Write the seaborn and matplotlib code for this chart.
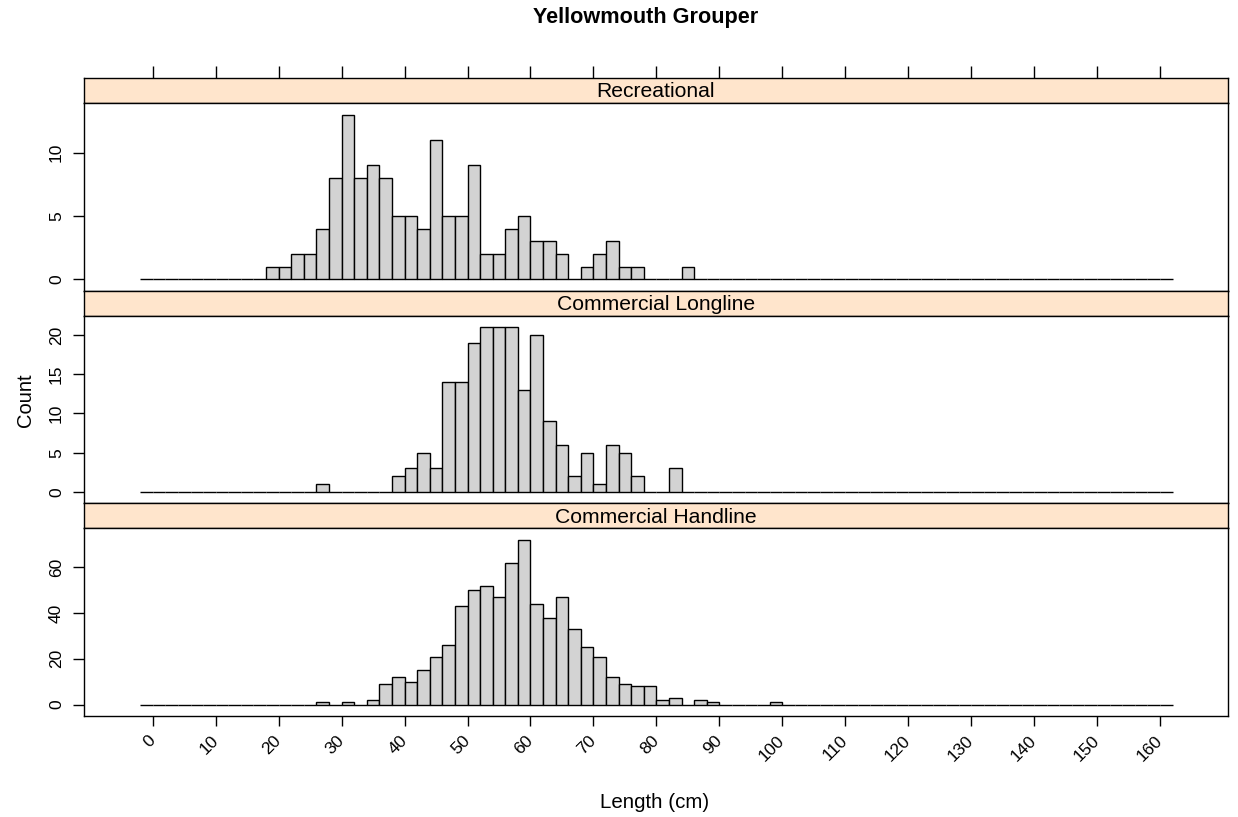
import numpy as np
import pandas as pd
import matplotlib
matplotlib.use('Agg')
import matplotlib.pyplot as plt
import seaborn as sns

sns.set_style('white')
plt.rcParams['font.family'] = ['Liberation Sans', 'DejaVu Sans']
plt.rcParams['text.color'] = 'black'
plt.rcParams['xtick.color'] = 'black'
plt.rcParams['ytick.color'] = 'black'

panels = ['Recreational', 'Commercial Longline', 'Commercial Handline']

# bin midpoints (cm) and counts, 2 cm bins
rec_length = [19, 21, 23, 25, 27, 29, 31, 33, 35, 37, 39, 41, 43, 45, 47,
              49, 51, 53, 55, 57, 59, 61, 63, 65, 69, 71, 73, 75, 77, 85]
rec_count = [1, 1, 2, 2, 4, 8, 13, 8, 9, 8, 5, 5, 4, 11, 5,
             5, 9, 2, 2, 4, 5, 3, 3, 2, 1, 2, 3, 1, 1, 1]

ll_length = [27, 39, 41, 43, 45, 47, 49, 51, 53, 55, 57, 59, 61, 63, 65,
             67, 69, 71, 73, 75, 77, 83]
ll_count = [1, 2, 3, 5, 3, 14, 14, 19, 21, 21, 21, 13, 20, 9, 6,
            2, 5, 1, 6, 5, 2, 3]

hl_length = [27, 31, 35, 37, 39, 41, 43, 45, 47, 49, 51, 53, 55, 57, 59,
             61, 63, 65, 67, 69, 71, 73, 75, 77, 79, 81, 83, 87, 89, 99]
hl_count = [1, 1, 2, 9, 12, 10, 15, 21, 26, 43, 50, 52, 47, 62, 72,
            44, 38, 47, 33, 25, 21, 12, 9, 8, 8, 2, 3, 2, 1, 1]

y_ticks = {'Recreational': [0, 5, 10],
           'Commercial Longline': [0, 5, 10, 15, 20],
           'Commercial Handline': [0, 20, 40, 60]}
x_ticks = np.arange(0, 161, 10)

df = pd.concat([
    pd.DataFrame({'gear': panels[0], 'length': rec_length, 'count': rec_count}),
    pd.DataFrame({'gear': panels[1], 'length': ll_length, 'count': ll_count}),
    pd.DataFrame({'gear': panels[2], 'length': hl_length, 'count': hl_count}),
])

W, H = 1238, 817
fig = plt.figure(figsize=(W / 100, H / 100), dpi=100)


def box(left, top, right, bottom):
    return [left / W, 1 - bottom / H, (right - left) / W, (bottom - top) / H]


x_left, x_right = 83.5, 1228
strip_h, panel_h = 25, 187.7
top = 78
xlim = (-11, 170.8)

for i, gear in enumerate(panels):
    s_top = top + i * (strip_h + panel_h)
    p_top = s_top + strip_h
    p_bot = p_top + panel_h

    sax = fig.add_axes(box(x_left, s_top, x_right, p_top))
    sax.set_facecolor('#ffe5cc')
    sax.set_xlim(xlim)
    sax.set_ylim(0, 1)
    sax.set_yticks([])
    sax.text(0.5, 0.45, gear, transform=sax.transAxes, ha='center',
             va='center', fontsize=15.2)
    if i == 0:
        sax.xaxis.tick_top()
        sax.set_xticks(x_ticks)
        sax.set_xticklabels([])
        sax.tick_params(axis='x', direction='out', length=9, width=1,
                        color='black', top=True)
    else:
        sax.set_xticks([])

    ax = fig.add_axes(box(x_left, p_top, x_right, p_bot))
    sub = df[df['gear'] == gear]
    sns.histplot(data=sub, x='length', weights='count', binwidth=2,
                 binrange=(-2, 162), color='lightgray', edgecolor='black',
                 linewidth=1, alpha=1, ax=ax)
    ymax = sub['count'].max()
    ax.set_ylim(-0.07 * ymax, 1.07 * ymax)
    ax.set_xlim(xlim)
    ax.set_yticks(y_ticks[gear])
    ax.tick_params(axis='y', direction='out', length=8, width=1,
                   color='black', left=True, labelsize=12.5, labelrotation=90,
                   pad=6)
    for lab in ax.get_yticklabels():
        lab.set_va('center')
    ax.set_xlabel('')
    ax.set_ylabel('')
    if i == 2:
        ax.set_xticks(x_ticks)
        ax.set_xticklabels([str(t) for t in x_ticks], rotation=45,
                           ha='right', va='center', rotation_mode='anchor')
        ax.tick_params(axis='x', direction='out', length=7, width=1,
                       color='black', bottom=True, labelsize=12.5, pad=9)
    else:
        ax.set_xticks([])

    for a in (sax, ax):
        for sp in a.spines.values():
            sp.set_color('black')
            sp.set_linewidth(1)

fig.text(646 / W, 1 - 18 / H, 'Yellowmouth Grouper', ha='center',
         va='center', fontsize=15.6, fontweight='bold')
fig.text(25 / W, 1 - 400 / H, 'Count', ha='center', va='center',
         rotation=90, fontsize=14.5)
fig.text(655 / W, 1 - 802 / H, 'Length (cm)', ha='center', va='center',
         fontsize=14.8)

fig.savefig('out.png', dpi=100)
